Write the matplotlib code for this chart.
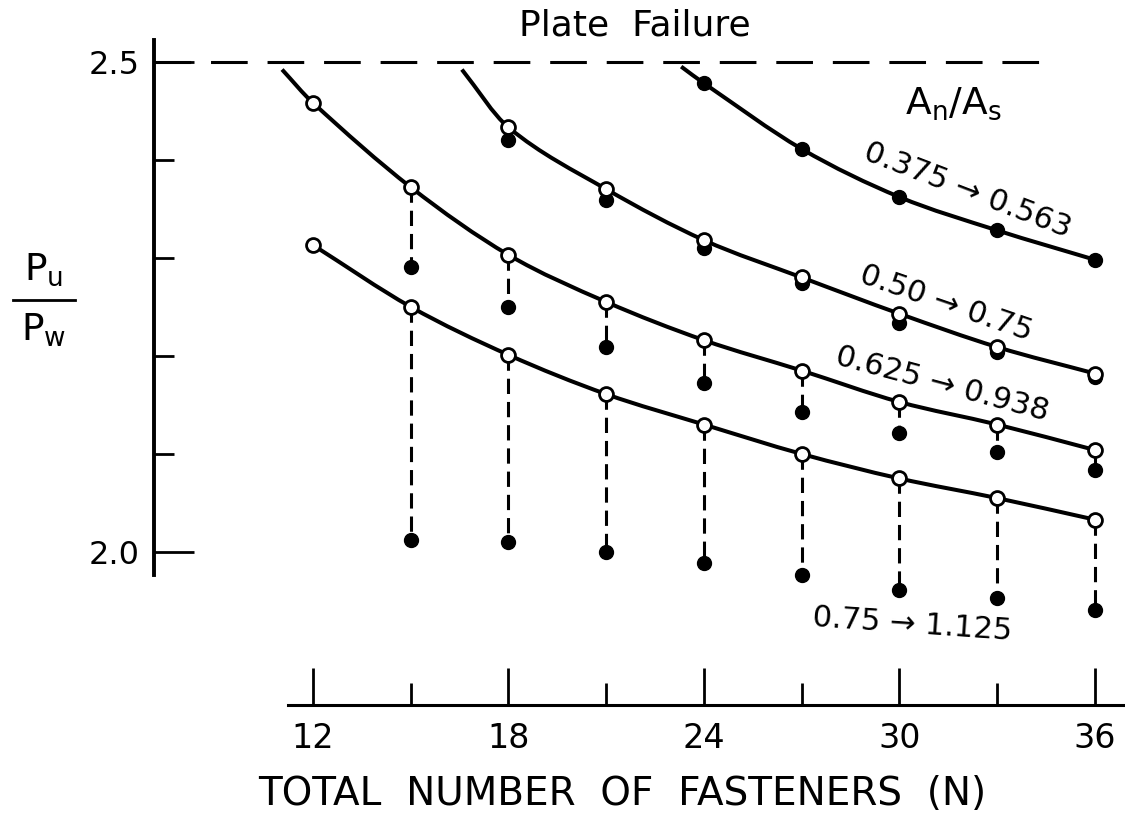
import numpy as np
import matplotlib
matplotlib.use("Agg")
import matplotlib.pyplot as plt
from matplotlib.path import Path
from matplotlib.patches import PathPatch

# ---------------- data ----------------
N_all = [12, 15, 18, 21, 24, 27, 30, 33, 36]

# A_n/A_s 0.375 -> 0.563 (filled points only)
c1_start = (23.3, 2.495)
c1_N = [24, 27, 30, 33, 36]
c1_filled = [2.478, 2.411, 2.362, 2.328, 2.298]

# A_n/A_s 0.50 -> 0.75
c2_start = (16.57, 2.492)
c2_N = [18, 21, 24, 27, 30, 33, 36]
c2_open = [2.433, 2.370, 2.318, 2.280, 2.243, 2.209, 2.182]
c2_filled = [2.420, 2.359, 2.310, 2.274, 2.234, 2.204, 2.178]

# A_n/A_s 0.625 -> 0.938
c3_start = (11.05, 2.492)
c3_N = [12, 15, 18, 21, 24, 27, 30, 33, 36]
c3_open = [2.458, 2.372, 2.303, 2.255, 2.216, 2.185, 2.153, 2.130, 2.104]
c3_fN = [15, 18, 21, 24, 27, 30, 33, 36]
c3_filled = [2.291, 2.250, 2.209, 2.172, 2.143, 2.121, 2.102, 2.084]

# A_n/A_s 0.75 -> 1.125
c4_N = [12, 15, 18, 21, 24, 27, 30, 33, 36]
c4_open = [2.313, 2.250, 2.201, 2.161, 2.130, 2.100, 2.075, 2.055, 2.033]
c4_fN = [15, 18, 21, 24, 27, 30, 33, 36]
c4_filled = [2.012, 2.010, 2.000, 1.989, 1.977, 1.961, 1.953, 1.941]

plate_failure = 2.5
curve_labels = ["0.375 → 0.563", "0.50 → 0.75", "0.625 → 0.938", "0.75 → 1.125"]
x_major = [12, 18, 24, 30, 36]
x_minor = [15, 21, 27, 33]
y_major = [2.0, 2.5]
y_minor = [2.1, 2.2, 2.3, 2.4]

# ---------------- figure / layout ----------------
W, H = 1125, 817
fig = plt.figure(figsize=(W / 100, H / 100), dpi=100)
ax = fig.add_axes([0, 0, 1, 1])
ax.set_facecolor("white")
ax.set_xlim(2.393, 36.923)
ax.set_ylim(1.7298, 2.5629)


def P(x, y):
    """pixel position -> axes fraction"""
    return x / W, 1 - y / H


def smooth(xs, ys):
    """Piecewise cubic Hermite (Bezier) path through the given points."""
    x = np.asarray(xs, float)
    y = np.asarray(ys, float)
    n = len(x)
    h = np.diff(x)
    s = np.diff(y) / h
    m = np.empty(n)
    for i in range(1, n - 1):
        m[i] = (y[i + 1] - y[i - 1]) / (x[i + 1] - x[i - 1])
    m[0] = s[0]
    m[-1] = s[-1]
    verts = [(x[0], y[0])]
    codes = [Path.MOVETO]
    for i in range(n - 1):
        d = h[i] / 3
        verts += [(x[i] + d, y[i] + d * m[i]),
                  (x[i + 1] - d, y[i + 1] - d * m[i + 1]),
                  (x[i + 1], y[i + 1])]
        codes += [Path.CURVE4] * 3
    return Path(verts, codes)


# spines / ticks
for s in ("top", "right"):
    ax.spines[s].set_visible(False)
ax.spines["left"].set_position(("data", 7.12))
ax.spines["left"].set_bounds(1.9765, 2.522)
ax.spines["left"].set_linewidth(2.8)
ax.spines["bottom"].set_position(("data", 1.844))
ax.spines["bottom"].set_bounds(11.23, 36.86)
ax.spines["bottom"].set_linewidth(2.2)

ax.set_xticks(x_major, labels=[str(v) for v in x_major])
ax.set_xticks(x_minor, minor=True)
ax.set_yticks(y_major, labels=["%.1f" % v for v in y_major])
ax.set_yticks(y_minor, minor=True)
ax.tick_params(axis="x", which="major", direction="in", length=26.6, width=2.0,
               pad=12, labelsize=24)
ax.tick_params(axis="x", which="minor", direction="in", length=15.8, width=2.0)
ax.tick_params(axis="y", which="major", direction="in", length=29, width=2.0,
               pad=10, labelsize=23)
ax.tick_params(axis="y", which="minor", direction="in", length=14.4, width=2.0)

# plate failure line
ax.plot([7.12, 34.68], [plate_failure, plate_failure], color="black", lw=2.2,
        linestyle=(0, (12, 6.5)), solid_capstyle="butt", dash_capstyle="butt")

# dashed links open -> filled
for fN, f, oN, o in [(c3_fN, c3_filled, c3_N, c3_open), (c4_fN, c4_filled, c4_N, c4_open)]:
    omap = dict(zip(oN, o))
    for n, yv in zip(fN, f):
        ax.plot([n, n], [omap[n], yv], color="black", lw=2.2,
                linestyle=(0, (5, 2.6)), dash_capstyle="butt")

# curves
curves = [
    ([c1_start[0]] + c1_N, [c1_start[1]] + c1_filled),
    ([c2_start[0]] + c2_N, [c2_start[1]] + c2_open),
    ([c3_start[0]] + c3_N, [c3_start[1]] + c3_open),
    (c4_N, c4_open),
]
for xs, ys in curves:
    ax.add_patch(PathPatch(smooth(xs, ys), fill=False, edgecolor="black",
                           lw=2.9, capstyle="butt"))

# filled markers
for xs, ys in [(c1_N, c1_filled), (c2_N, c2_filled), (c3_fN, c3_filled), (c4_fN, c4_filled)]:
    ax.plot(xs, ys, "o", color="black", markersize=10, zorder=4)
# open markers
for xs, ys in [(c2_N, c2_open), (c3_N, c3_open), (c4_N, c4_open)]:
    ax.plot(xs, ys, "o", mfc="white", mec="black", mew=2.0, markersize=10, zorder=5)

# texts
ax.text(*P(635, 26), "Plate  Failure", transform=ax.transAxes, ha="center",
        va="center", fontsize=26)
ax.text(*P(953, 104), r"$\mathregular{A_n/A_s}$", transform=ax.transAxes,
        ha="center", va="center", fontsize=27)
label_pos = [((968, 190), -21), ((946, 303), -19), ((942, 384), -15), ((912, 624), -4)]
for txt, ((lx, ly), rot) in zip(curve_labels, label_pos):
    ax.text(*P(lx, ly), txt, transform=ax.transAxes, ha="center", va="center",
            rotation=rot, rotation_mode="anchor", fontsize=22)

ax.set_xlabel("TOTAL  NUMBER  OF  FASTENERS  (N)", fontsize=28)
ax.xaxis.set_label_coords(622 / W, 1 - 794 / H)
ax.xaxis.label.set_va("center")

# y label as a fraction
ax.text(*P(44, 270), r"$\mathregular{P_u}$", transform=ax.transAxes, ha="center",
        va="center", fontsize=27)
ax.text(*P(44, 330), r"$\mathregular{P_w}$", transform=ax.transAxes, ha="center",
        va="center", fontsize=27)
ax.plot([13 / W, 75 / W], [1 - 300 / H, 1 - 300 / H], transform=ax.transAxes,
        color="black", lw=2.0, clip_on=False)

fig.savefig("out.png", dpi=100, facecolor="white")
